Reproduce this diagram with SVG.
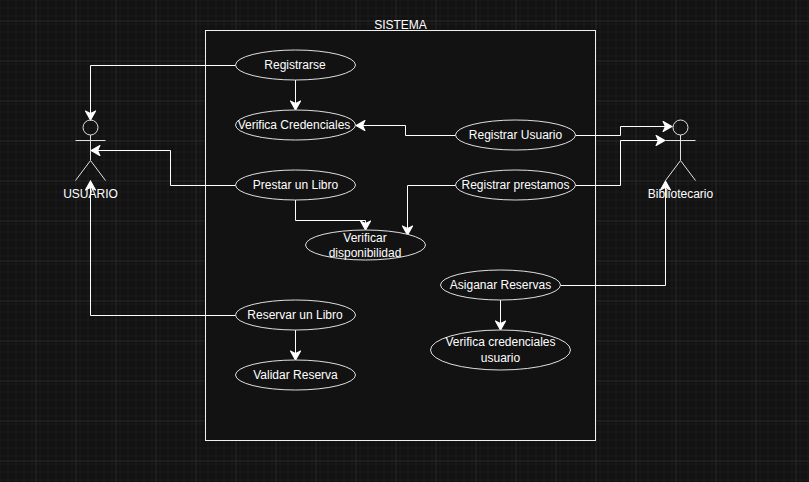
<svg xmlns="http://www.w3.org/2000/svg" width="809" height="482" viewBox="0 0 809 482">
<style>
text{font-family:"Liberation Sans",Arial,sans-serif;font-size:12px;fill:#fff;text-anchor:middle}
.uc{fill:#121212;stroke:#e0e0e0;stroke-width:1}
.actor{fill:none;stroke:#e0e0e0;stroke-width:1}
.conn{fill:none;stroke:#fff;stroke-width:1}
</style>
<defs>
<pattern id="minor" width="8" height="8" patternUnits="userSpaceOnUse" x="-0.5" y="-0.5"><path d="M8 0H0V8" fill="none" stroke="#222222" stroke-width="1"/></pattern>
<pattern id="major" width="40" height="40" patternUnits="userSpaceOnUse" x="35.5" y="20.5"><path d="M40 0H0V40" fill="none" stroke="#404040" stroke-width="1"/></pattern>
<marker id="arr" viewBox="0 0 10 10" refX="9" refY="5" markerWidth="11" markerHeight="11" markerUnits="userSpaceOnUse" orient="auto"><path d="M1 0.5L9 5L1 9.500L3 5Z" fill="#fff" stroke="#fff" stroke-width="1"/></marker>
</defs>
<rect width="809" height="482" fill="#121212"/>
<rect width="809" height="482" fill="url(#minor)"/>
<rect width="809" height="482" fill="url(#major)"/>
<g id="sistema"><rect x="205.500" y="30.500" width="390" height="410" fill="#121212" stroke="#f0f0f0"/><text x="400.500" y="29">SISTEMA</text></g>
<g id="connectors">
<path class="conn" marker-end="url(#arr)" d="M235.500 65.500H90.500V120"/>
<path class="conn" marker-end="url(#arr)" d="M295.500 80V110"/>
<path class="conn" marker-end="url(#arr)" d="M235.500 185.500H170.500V150.500H91"/>
<path class="conn" marker-end="url(#arr)" d="M295.500 200V220.500H365.500V230"/>
<path class="conn" marker-end="url(#arr)" d="M235.500 315.500H90.500V181"/>
<path class="conn" marker-end="url(#arr)" d="M295.500 330V360"/>
<path class="conn" marker-end="url(#arr)" d="M455.500 135.500H405.500V125.500H356"/>
<path class="conn" marker-end="url(#arr)" d="M575.500 135.500H620.500V126.500H672"/>
<path class="conn" marker-end="url(#arr)" d="M455.500 185.500H407.500V235"/>
<path class="conn" marker-end="url(#arr)" d="M575.500 185.500H620.500V140.500H665"/>
<path class="conn" marker-end="url(#arr)" d="M560.500 285.500H665.500V181"/>
<path class="conn" marker-end="url(#arr)" d="M500.500 300V330"/>
</g>
<g id="usuario"><circle class="actor" cx="90.500" cy="127.500" r="7.500"/><path class="actor" d="M90.500 135V160M75.500 140.500H105.500M90.500 160.500L75.500 180.500M90.500 160.500L105.500 180.500"/><text x="90.500" y="198">USUARIO</text></g>
<g id="bibliotecario"><circle class="actor" cx="680.500" cy="127.500" r="7.500"/><path class="actor" d="M680.500 135V160M665.500 140.500H695.500M680.500 160.500L665.500 180.500M680.500 160.500L695.500 180.500"/><text x="680.500" y="198">Bibliotecario</text></g>
<g id="registrarse"><ellipse class="uc" cx="295.500" cy="65" rx="60" ry="15"/><text x="295" y="69">Registrarse</text></g>
<g id="verifica-credenciales"><ellipse class="uc" cx="295.500" cy="125" rx="60" ry="15"/><text x="294" y="129">Verifica Credenciales</text></g>
<g id="prestar"><ellipse class="uc" cx="295.500" cy="185" rx="60" ry="15"/><text x="295.500" y="189">Prestar un Libro</text></g>
<g id="verificar-disponibilidad"><ellipse class="uc" cx="365.500" cy="245" rx="60" ry="15"/><text x="365" y="242">Verificar</text><text x="365" y="257">disponibilidad</text></g>
<g id="reservar"><ellipse class="uc" cx="295.500" cy="315" rx="60" ry="15"/><text x="295" y="319">Reservar un Libro</text></g>
<g id="validar"><ellipse class="uc" cx="295.500" cy="375" rx="60" ry="15"/><text x="295.500" y="379">Validar Reserva</text></g>
<g id="registrar-usuario"><ellipse class="uc" cx="515.500" cy="135" rx="60" ry="15"/><text x="515.500" y="139">Registrar Usuario</text></g>
<g id="registrar-prestamos"><ellipse class="uc" cx="515.500" cy="185" rx="60" ry="15"/><text x="515.500" y="189">Registrar prestamos</text></g>
<g id="asignar"><ellipse class="uc" cx="500.500" cy="285" rx="60" ry="15"/><text x="500.500" y="289">Asiganar Reservas</text></g>
<g id="verifica-usuario"><ellipse class="uc" cx="500.500" cy="350" rx="70" ry="20"/><text x="500.500" y="346">Verifica credenciales</text><text x="500.500" y="362">usuario</text></g>
</svg>
